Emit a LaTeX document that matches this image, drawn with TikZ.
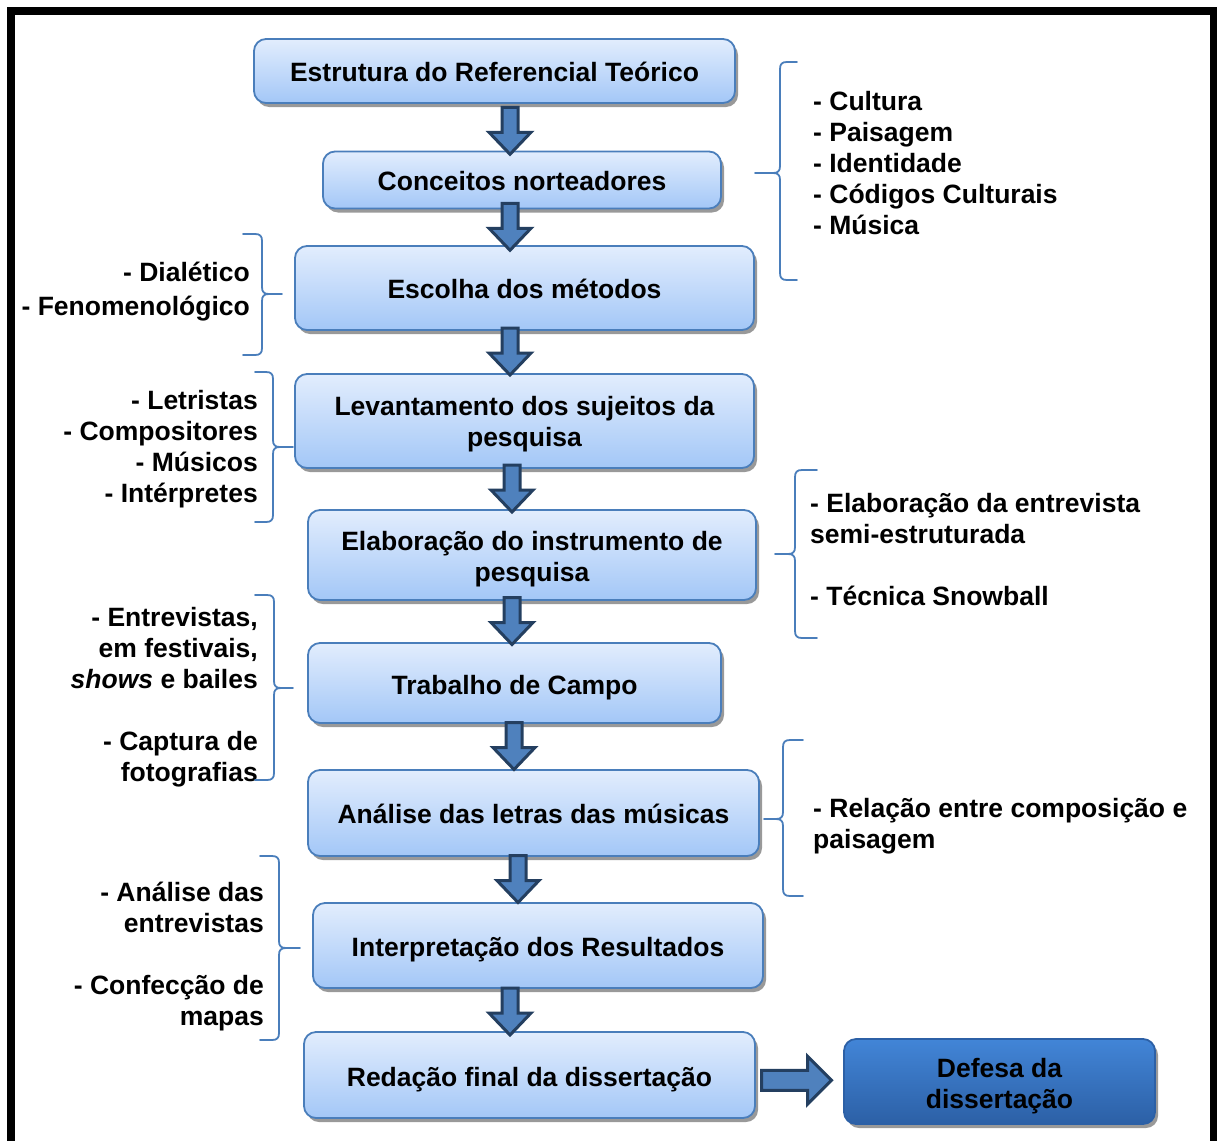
\documentclass[tikz,border=0pt]{standalone}
\usepackage{fontspec}
\setmainfont{Liberation Sans}
\usetikzlibrary{shadows,calc}
\definecolor{bord}{RGB}{74,126,187}
\definecolor{topc}{RGB}{226,237,253}
\definecolor{botc}{RGB}{163,199,247}
\definecolor{arrfill}{RGB}{79,129,189}
\definecolor{arrdraw}{RGB}{36,63,96}
\definecolor{dtop}{RGB}{66,133,215}
\definecolor{dbot}{RGB}{44,96,166}
\definecolor{brc}{RGB}{74,126,187}
% brace with tip to the right: #1 end x, #2 stem x, #3 tip x, #4 top y, #5 tip y, #6 bottom y
\newcommand{\bracetipright}[6]{%
\draw[bracestyle] (#1,#4) -- (#2-7,#4) .. controls (#2-2,#4) and (#2,#4+2) .. (#2,#4+7) -- (#2,#5-7) .. controls (#2,#5-2) and (#2+2,#5) .. (#2+7,#5) -- (#3,#5);
\draw[bracestyle] (#2+7,#5) .. controls (#2+2,#5) and (#2,#5+2) .. (#2,#5+7) -- (#2,#6-7) .. controls (#2,#6-2) and (#2-2,#6) .. (#2-7,#6) -- (#1,#6);}
\newcommand{\bracetipleft}[6]{%
\draw[bracestyle] (#1,#4) -- (#2+7,#4) .. controls (#2+2,#4) and (#2,#4+2) .. (#2,#4+7) -- (#2,#5-7) .. controls (#2,#5-2) and (#2-2,#5) .. (#2-7,#5) -- (#3,#5);
\draw[bracestyle] (#2-7,#5) .. controls (#2-2,#5) and (#2,#5+2) .. (#2,#5+7) -- (#2,#6-7) .. controls (#2,#6-2) and (#2+2,#6) .. (#2+7,#6) -- (#1,#6);}
\begin{document}
\begin{tikzpicture}[x=1pt,y=-1pt,
  every node/.style={font=\fontsize{26.5}{31}\selectfont\bfseries, text=black},
  box/.style={rounded corners=12pt, draw=bord, line width=1.8pt,
    top color=topc, bottom color=botc, inner sep=0pt,
    drop shadow={shadow xshift=3pt, shadow yshift=-4pt, fill=black, opacity=0.4}},
  darkbox/.style={box, top color=dtop, bottom color=dbot, draw=dbot},
  boxtext/.style={align=center, inner sep=0pt},
  oneline/.style={boxtext, text height=20pt, text depth=6pt},
  side/.style={inner sep=0pt},
  bracestyle/.style={draw=brc, line width=1.8pt, line cap=round},
  arrowstyle/.style={fill=arrfill, draw=arrdraw, line width=3pt, line join=miter},
  darrow/.pic={\path[arrowstyle] (-8,-24) -- (8,-24) -- (8,1) -- (21,1) -- (0,23) -- (-21,1) -- (-8,1) -- cycle;},
  rarrow/.pic={\path[arrowstyle] (-35,-10) -- (11,-10) -- (11,-24) -- (35,0) -- (11,24) -- (11,10) -- (-35,10) -- cycle;}
]
\clip (0,0) rectangle (1217,1140);
\useasboundingbox (0,0) rectangle (1217,1140);
\fill[white] (0,0) rectangle (1217,1140);
\draw[line width=8pt] (11,11) rectangle (1214,1220);

% main boxes
\node[box, minimum width=481pt, minimum height=64pt] (b1) at (494.5,71) {};
\node[box, minimum width=398pt, minimum height=57pt] (b2) at (522,180) {};
\node[box, minimum width=459pt, minimum height=84pt] (b3) at (524.5,288) {};
\node[box, minimum width=459pt, minimum height=94pt] (b4) at (524.5,421) {};
\node[box, minimum width=448pt, minimum height=90pt] (b5) at (532,555) {};
\node[box, minimum width=413pt, minimum height=80pt] (b6) at (514.5,683) {};
\node[box, minimum width=451pt, minimum height=86pt] (b7) at (533.5,813) {};
\node[box, minimum width=450pt, minimum height=85pt] (b8) at (538,945.5) {};
\node[box, minimum width=451pt, minimum height=86pt] (b9) at (529.5,1075) {};
\node[darkbox, minimum width=311pt, minimum height=85pt] (b10) at (999.5,1081.5) {};

\node[oneline] (l1) at ($(b1)+(0,3.5)$) {Estrutura do Referencial Teórico};
\node[oneline] (l2) at ($(b2)+(0,3)$) {Conceitos norteadores};
\node[oneline] (l3) at ($(b3)+(0,3.5)$) {Escolha dos métodos};
\node[boxtext] (l4) at ($(b4)+(0,3.5)$) {Levantamento dos sujeitos da\\pesquisa};
\node[boxtext] (l5) at ($(b5)+(0,4)$) {Elaboração do instrumento de\\pesquisa};
\node[oneline] (l6) at ($(b6)+(0,4)$) {Trabalho de Campo};
\node[oneline] (l7) at ($(b7)+(0,3.5)$) {Análise das letras das músicas};
\node[oneline] (l8) at ($(b8)+(0,3.5)$) {Interpretação dos Resultados};
\node[oneline] (l9) at ($(b9)+(0,4)$) {Redação final da dissertação};
\node[boxtext] (l10) at ($(b10)+(0,4.5)$) {Defesa da\\dissertação};

% arrows
\coordinate (xa) at (510,0);
\coordinate (xb) at (512,0);
\coordinate (xc) at (514,0);
\coordinate (xd) at (518,0);
\pic at ($($(b1.south -| xa)!.5!(b2.north -| xa)$)+(0,4)$) {darrow};
\pic at ($(b2.south -| xa)!.5!(b3.north -| xa)$) {darrow};
\pic at ($(b3.south -| xa)!.5!(b4.north -| xa)$) {darrow};
\pic at ($(b4.south -| xb)!.5!(b5.north -| xb)$) {darrow};
\pic at ($(b5.south -| xb)!.5!(b6.north -| xb)$) {darrow};
\pic at ($(b6.south -| xc)!.5!(b7.north -| xc)$) {darrow};
\pic at ($(b7.south -| xd)!.5!(b8.north -| xd)$) {darrow};
\pic at ($($(b8.south -| xa)!.5!(b9.north -| xa)$)+(0,2)$) {darrow};
\pic at ($(b9.east)!.5!(b10.west)+(-3,2)$) {rarrow};

% side texts
\node[side, anchor=west, align=left] (t1) at (813,163) {- Cultura\\- Paisagem\\- Identidade\\- Códigos Culturais\\- Música};
\node[side, anchor=east, align=right, font=\fontsize{26.5}{34}\selectfont\bfseries] (t2) at (250,292) {- Dialético\\- Fenomenológico};
\node[side, anchor=east, align=right] (t3) at (258,449) {- Letristas\\- Compositores\\- Músicos\\- Intérpretes};
\node[side, anchor=west, align=left] (t4) at (810,550) {- Elaboração da entrevista\\semi-estruturada\\[31pt]- Técnica Snowball};
\node[side, anchor=east, align=right] (t5) at (258,697) {- Entrevistas,\\em festivais,\\\textit{shows} e bailes\\[31pt]- Captura de\\fotografias};
\node[side, anchor=west, align=left] (t6) at (813,826) {- Relação entre composição e\\paisagem};
\node[side, anchor=east, align=right] (t7) at (264,957) {- Análise das\\entrevistas\\[31pt]- Confecção de\\mapas};

% braces
\bracetipleft{797}{780}{755}{62}{173}{280}
\bracetipright{243}{262}{282}{234}{294}{355}
\bracetipright{255}{273}{293}{372}{447}{522}
\bracetipleft{817}{795}{775}{470}{554}{638}
\bracetipright{255}{274}{293}{595}{688}{780}
\bracetipleft{803}{783}{764}{740}{819}{896}
\bracetipright{260}{279}{300}{856}{948}{1040}
\end{tikzpicture}
\end{document}
